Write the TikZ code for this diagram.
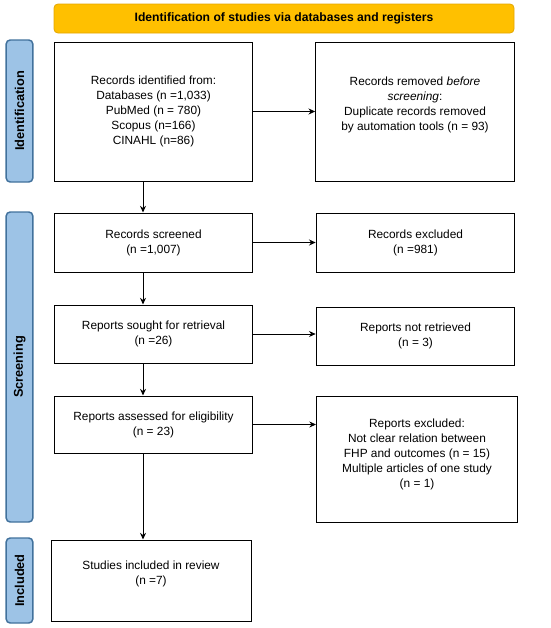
\documentclass[tikz,border=0pt]{standalone}
\usepackage{fontspec}
\setmainfont{Liberation Sans}
\usepackage{tikz}
\usetikzlibrary{arrows.meta,calc,positioning}
\definecolor{bannerfill}{HTML}{FFC000}
\definecolor{bannerline}{HTML}{E3A600}
\definecolor{stagefill}{HTML}{9DC3E6}
\definecolor{stageline}{HTML}{41719C}

\begin{document}
\begin{tikzpicture}[x=0.75pt,y=-0.75pt,>={Stealth[length=5pt,width=4.5pt]},
    box/.style={draw,line width=0.75pt,minimum width=149pt,align=center,font=\fontsize{8.9}{11.25}\selectfont,inner sep=0pt},
    banner/.style={draw=bannerline,fill=bannerfill,rounded corners=3pt,line width=0.6pt,font=\bfseries\fontsize{9.1}{11}\selectfont},
    stage/.style={draw=stageline,fill=stagefill,rounded corners=3pt,line width=1.1pt,minimum height=20pt,font=\bfseries\fontsize{9.6}{11}\selectfont,rotate=90}]
  \useasboundingbox (0,0) rectangle (550,628);
  % header and stage labels
  \node[banner,minimum width=345pt,minimum height=21.75pt] (head) at (284,18.5) {Identification of studies via databases and registers};
  \node[stage,minimum width=106.5pt] (ident) at (19.5,111) {Identification};
  \node[stage,minimum width=232.5pt] (scr) at (19.5,367) {Screening};
  \node[stage,minimum width=63.75pt] (inc) at (19.5,580.5) {Included};
  % left column
  \node[box,minimum height=104.25pt] (idrec) at (153.5,111.5) {Records identified from:\\ Databases (n =1,033)\\ PubMed (n = 780)\\ Scopus (n=166)\\ CINAHL (n=86)};
  \node[box,minimum height=44.25pt] (screen) at (153.5,242.5) {Records screened\\ (n =1,007)};
  \node[box,minimum height=43.5pt] (sought) at (153.5,334) {Reports sought for retrieval\\ (n =26)};
  \node[box,minimum height=42.75pt] (assess) at (153.5,424.5) {Reports assessed for eligibility\\ (n = 23)};
  \node[box,minimum width=150pt,minimum height=60.75pt] (incl) at (151,580.5) {Studies included in review\\ (n =7)\\[0pt]};
  % right column
  \node[box,minimum height=104.25pt] (remov) at (415,111.5) {Records removed \emph{before}\\ \emph{screening}:\\ Duplicate records removed\\ by automation tools (n = 93)\\[0pt]};
  \node[box,minimum height=44.25pt] (excl) at (415.5,242.5) {Records excluded\\ (n =981)};
  \node[box,minimum height=43.5pt] (notret) at (415.5,336) {Reports not retrieved\\ (n = 3)};
  \node[box,minimum width=150.75pt,minimum height=94.5pt] (rexcl) at (417,459) {Reports excluded:\\ Not clear relation between\\ FHP and outcomes (n = 15)\\ Multiple articles of one study\\ (n = 1)\\[-3pt]};
  % arrows
  \coordinate (col) at (143,0);
  \draw[->,line width=0.75pt] (idrec.south -| col) -- (screen.north -| col);
  \draw[->,line width=0.75pt] (screen.south -| col) -- (sought.north -| col);
  \draw[->,line width=0.75pt] (sought.south -| col) -- (assess.north -| col);
  \draw[->,line width=0.75pt] (assess.south -| col) -- (incl.north -| col);
  \draw[->,line width=0.75pt] (idrec.east) -- (remov.west);
  \draw[->,line width=0.75pt] (screen.east) -- (excl.west);
  \draw[->,line width=0.75pt] (sought.east) -- (sought.east -| notret.west);
  \draw[->,line width=0.75pt] (assess.east) -- (assess.east -| rexcl.west);
\end{tikzpicture}
\end{document}
